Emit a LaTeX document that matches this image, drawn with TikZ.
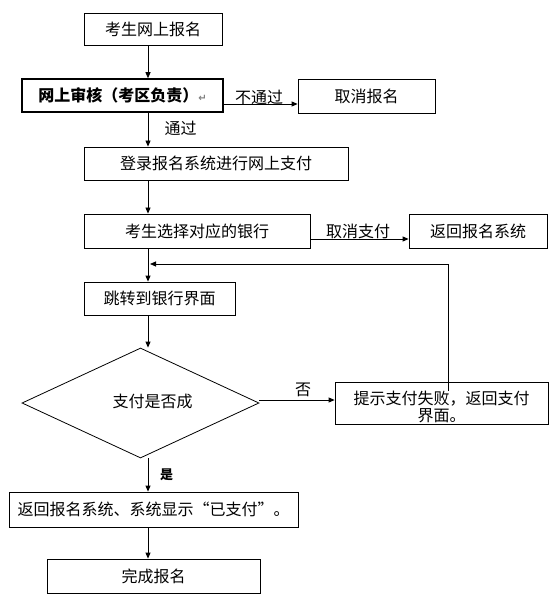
\documentclass[tikz,border=0pt]{standalone}
\usepackage{fontspec}
\newfontfamily\cjk{Noto Sans CJK SC}
\newfontfamily\dejavu{DejaVu Sans}
\usetikzlibrary{shapes.geometric,arrows.meta}
\begin{document}
\begin{tikzpicture}[x=1pt,y=-1pt,line width=0.8pt,
  box/.style={draw,rectangle,inner sep=0pt,align=center,font=\cjk\fontsize{16}{17}\selectfont},
  lbl/.style={inner sep=0pt,align=center,font=\cjk\fontsize{16}{17}\selectfont},
  arr/.style={-{Triangle[length=6pt,width=5pt]},line width=0.8pt}]
\useasboundingbox[fill=white] (0,0) rectangle (557,601);
\coordinate (m) at (148,0);
% boxes
\node[box,minimum width=138pt,minimum height=32pt] (b1) at (153,29) {考生网上报名};
\node[box,line width=1.5pt,minimum width=201pt,minimum height=33pt] (b2) at (122.5,95.5)
  {\bfseries 网上审核（考区负责）\textcolor{gray}{\dejavu\fontsize{10}{10}\selectfont ↵}};
\node[box,minimum width=137pt,minimum height=34pt] (b3) at (366.5,96) {取消报名};
\node[box,minimum width=264pt,minimum height=33pt] (b4) at (216,163.5) {登录报名系统进行网上支付};
\node[box,minimum width=226pt,minimum height=34pt] (b5) at (197,231) {考生选择对应的银行};
\node[box,minimum width=138pt,minimum height=34pt] (b6) at (478,231) {返回报名系统};
\node[box,minimum width=151pt,minimum height=33pt] (b7) at (159.5,298.5) {跳转到银行界面};
\node[draw,diamond,inner sep=0pt,minimum width=237pt,minimum height=110pt] (dia) at (140.5,403) {};
\node[lbl] (diat) at (152.5,401) {支付是否成};
\node[box,minimum width=213pt,minimum height=42pt] (b8) at (441.5,403) {};
\node[lbl] (b8t) at (441.5,407) {提示支付失败，返回支付\\界面。};
\node[box,minimum width=289pt,minimum height=35pt] (b9) at (153.5,509.5) {返回报名系统、系统显示“已支付”。};
\node[box,minimum width=213pt,minimum height=34pt] (b10) at (153.5,576) {完成报名};
% labels
\node[lbl] (l1) at (259,97) {不通过};
\node[lbl] (l2) at (180.5,128) {通过};
\node[lbl] (l3) at (358,231) {取消支付};
\node[lbl] (l4) at (303,390) {否};
\node[lbl,font=\cjk\bfseries\fontsize{13}{13}\selectfont] (l5) at (166.5,475) {是};
% connectors
\draw[arr] (b1.south -| m) -- (b2.north -| m);
\draw[arr] ([yshift=-8.5pt]b2.east) -- ([yshift=-8pt]b3.west);
\draw[arr] (b2.south -| m) -- (b4.north -| m);
\draw[arr] (b4.south -| m) -- (b5.north -| m);
\draw[arr] ([yshift=-8pt]b5.east) -- ([yshift=-8pt]b6.west);
\draw[arr] (b5.south -| m) -- (b7.north -| m);
\coordinate (fb) at (448,391);
\coordinate (fbend) at (150,264);
\draw[arr] (fb) |- (fbend);
\draw[arr] (b7.south -| m) -- (dia.north -| m);
\draw[arr] ([yshift=3pt]dia.east) -- ([yshift=3pt]b8.west);
\draw[arr] (dia.south -| m) -- (b9.north -| m);
\draw[arr] (b9.south -| m) -- (b10.north -| m);
\end{tikzpicture}
\end{document}
